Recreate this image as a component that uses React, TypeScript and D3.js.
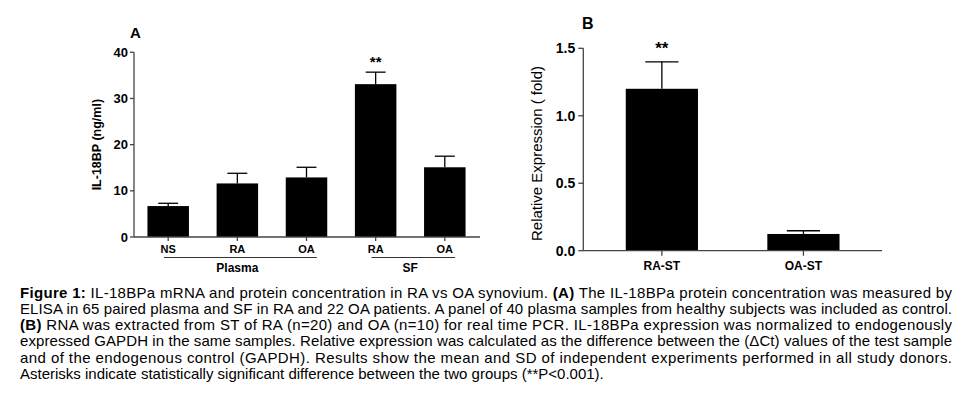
import React from "react";
import * as d3 from "d3";

// Panel A data
const catsA = ["NS", "RA", "OA", "RA", "OA"];
const meansA = [6.7, 11.6, 12.9, 33.1, 15.1];
const errA = [0.6, 2.2, 2.2, 2.6, 2.4];
const sigA = ["", "", "", "**", ""];
const ticksA = [0, 10, 20, 30, 40];
const groupsA = [
  { label: "Plasma", from: 0, to: 2 },
  { label: "SF", from: 3, to: 4 },
];

// Panel B data
const catsB = ["RA-ST", "OA-ST"];
const meansB = [1.2, 0.124];
const errB = [0.2, 0.024];
const sigB = ["**", ""];
const ticksB = [0, 0.5, 1.0, 1.5];

const captionLines: { parts: { t: string; b?: boolean }[]; justify: boolean }[] = [
  {
    parts: [
      { t: "Figure 1:", b: true },
      { t: " IL-18BPa mRNA and protein concentration in RA vs OA synovium. " },
      { t: "(A)", b: true },
      { t: " The IL-18BPa protein concentration was measured by" },
    ],
    justify: true,
  },
  {
    parts: [
      { t: "ELISA in 65 paired plasma and SF in RA and 22 OA patients. A panel of 40 plasma samples from healthy subjects was included as control." },
    ],
    justify: true,
  },
  {
    parts: [
      { t: "(B)", b: true },
      { t: " RNA was extracted from ST of RA (n=20) and OA (n=10) for real time PCR. IL-18BPa expression was normalized to endogenously" },
    ],
    justify: true,
  },
  {
    parts: [
      { t: "expressed GAPDH in the same samples. Relative expression was calculated as the difference between the (\u0394Ct) values of the test sample" },
    ],
    justify: true,
  },
  {
    parts: [
      { t: "and of the endogenous control (GAPDH). Results show the mean and SD of independent experiments performed in all study donors." },
    ],
    justify: true,
  },
  {
    parts: [{ t: "Asterisks indicate statistically significant difference between the two groups (**P<0.001)." }],
    justify: false,
  },
];

const FONT = "'Liberation Sans', Arial, Helvetica, sans-serif";
const AXIS = "#444";

function PanelA() {
  const x0 = 134, x1 = 480, yTop = 52.3, yBot = 237;
  const y = d3.scaleLinear().domain([0, 40]).range([yBot, yTop]);
  const x = d3.scaleBand<number>().domain(d3.range(catsA.length)).range([x0 + 1, x1 - 2]).paddingInner(0.4).paddingOuter(0.18);
  const bw = x.bandwidth();
  return (
    <g fontFamily={FONT}>
      <text x={130} y={38} fontSize={15} fontWeight="bold">A</text>
      <line x1={x0} x2={x0} y1={yTop} y2={yBot} stroke={AXIS} strokeWidth={1.3} />
      {ticksA.map((t) => (
        <g key={t}>
          <line x1={x0 - 4} x2={x0} y1={y(t)} y2={y(t)} stroke={AXIS} strokeWidth={1.3} />
          <text x={x0 - 6} y={y(t)} dy="0.35em" textAnchor="end" fontSize={13} fontWeight="bold">{t}</text>
        </g>
      ))}
      <text transform={`translate(101,${(yTop + yBot) / 2}) rotate(-90)`} textAnchor="middle" fontSize={12.5} fontWeight="bold">IL-18BP (ng/ml)</text>
      {meansA.map((m, i) => {
        const cx = (x(i) as number) + bw / 2;
        const capW = bw * 0.24;
        return (
          <g key={i}>
            <line x1={cx} x2={cx} y1={y(m)} y2={y(m + errA[i])} stroke="#000" strokeWidth={1.3} />
            <line x1={cx - capW} x2={cx + capW} y1={y(m + errA[i])} y2={y(m + errA[i])} stroke="#000" strokeWidth={1.3} />
            <rect x={x(i)} y={y(m)} width={bw} height={yBot - y(m)} fill="#000" />
            {sigA[i] && (
              <text x={cx} y={y(m + errA[i]) - 5} textAnchor="middle" fontSize={15} fontWeight="bold">{sigA[i]}</text>
            )}
            <line x1={cx} x2={cx} y1={yBot} y2={yBot + 4} stroke={AXIS} strokeWidth={1.3} />
            <text x={cx} y={yBot + 16} textAnchor="middle" fontSize={11} fontWeight="bold">{catsA[i]}</text>
          </g>
        );
      })}
      <line x1={x0} x2={x1} y1={yBot} y2={yBot} stroke={AXIS} strokeWidth={1.3} />
      {groupsA.map((g) => {
        const a = (x(g.from) as number) + bw * 0.4;
        const b = (x(g.to) as number) + bw * 0.75;
        const c = ((x(g.from) as number) + (x(g.to) as number) + bw) / 2;
        return (
          <g key={g.label}>
            <line x1={a} x2={b} y1={257.5} y2={257.5} stroke="#333" strokeWidth={1} />
            <text x={c} y={272} textAnchor="middle" fontSize={12} fontWeight="bold">{g.label}</text>
          </g>
        );
      })}
    </g>
  );
}

function PanelB() {
  const x0 = 583.3, x1 = 882, yTop = 48.3, yBot = 250.7;
  const y = d3.scaleLinear().domain([0, 1.5]).range([yBot, yTop]);
  const x = d3.scaleBand<number>().domain(d3.range(catsB.length)).range([x0, x1]).paddingInner(0.49).paddingOuter(0.3);
  const bw = x.bandwidth();
  return (
    <g fontFamily={FONT}>
      <text x={582} y={29} fontSize={16} fontWeight="bold">B</text>
      <line x1={x0} x2={x0} y1={yTop} y2={yBot} stroke={AXIS} strokeWidth={1.3} />
      {ticksB.map((t) => (
        <g key={t}>
          <line x1={x0 - 5} x2={x0} y1={y(t)} y2={y(t)} stroke={AXIS} strokeWidth={1.3} />
          <text x={x0 - 8} y={y(t)} dy="0.35em" textAnchor="end" fontSize={14} fontWeight="bold">{d3.format(".1f")(t)}</text>
        </g>
      ))}
      <text transform={`translate(542,${(yTop + yBot) / 2 + 4}) rotate(-90)`} textAnchor="middle" fontSize={15}>Relative  Expression ( fold)</text>
      {meansB.map((m, i) => {
        const cx = (x(i) as number) + bw / 2;
        const capW = bw * 0.23;
        return (
          <g key={i}>
            <line x1={cx} x2={cx} y1={y(m)} y2={y(m + errB[i])} stroke="#000" strokeWidth={1.3} />
            <line x1={cx - capW} x2={cx + capW} y1={y(m + errB[i])} y2={y(m + errB[i])} stroke="#000" strokeWidth={1.3} />
            <rect x={x(i)} y={y(m)} width={bw} height={yBot - y(m)} fill="#000" />
            {sigB[i] && (
              <text x={cx} y={y(m + errB[i]) - 8} textAnchor="middle" fontSize={17} fontWeight="bold">{sigB[i]}</text>
            )}
            <line x1={cx} x2={cx} y1={yBot} y2={yBot + 5} stroke={AXIS} strokeWidth={1.3} />
            <text x={cx} y={yBot + 19} textAnchor="middle" fontSize={12} fontWeight="bold">{catsB[i]}</text>
          </g>
        );
      })}
      <line x1={x0} x2={x1} y1={yBot} y2={yBot} stroke={AXIS} strokeWidth={1.3} />
    </g>
  );
}

function Caption() {
  const left = 20, right = 952, base0 = 297.5, lh = 16.3;
  return (
    <g fontFamily={FONT} fontSize={15} fill="#000">
      {captionLines.map((ln, i) => (
        <text
          key={i}
          x={left}
          y={base0 + i * lh}
          {...(ln.justify ? { textLength: right - left, lengthAdjust: "spacing" } : {})}
        >
          {ln.parts.map((p, j) => (
            <tspan key={j} fontWeight={p.b ? "bold" : "normal"}>{p.t}</tspan>
          ))}
        </text>
      ))}
    </g>
  );
}

export default function App() {
  return (
    <svg width={964} height={396} style={{ position: "absolute", left: 0, top: 0, background: "#fff" }}>
      <rect width={964} height={396} fill="#fff" />
      <PanelA />
      <PanelB />
      <Caption />
    </svg>
  );
}
